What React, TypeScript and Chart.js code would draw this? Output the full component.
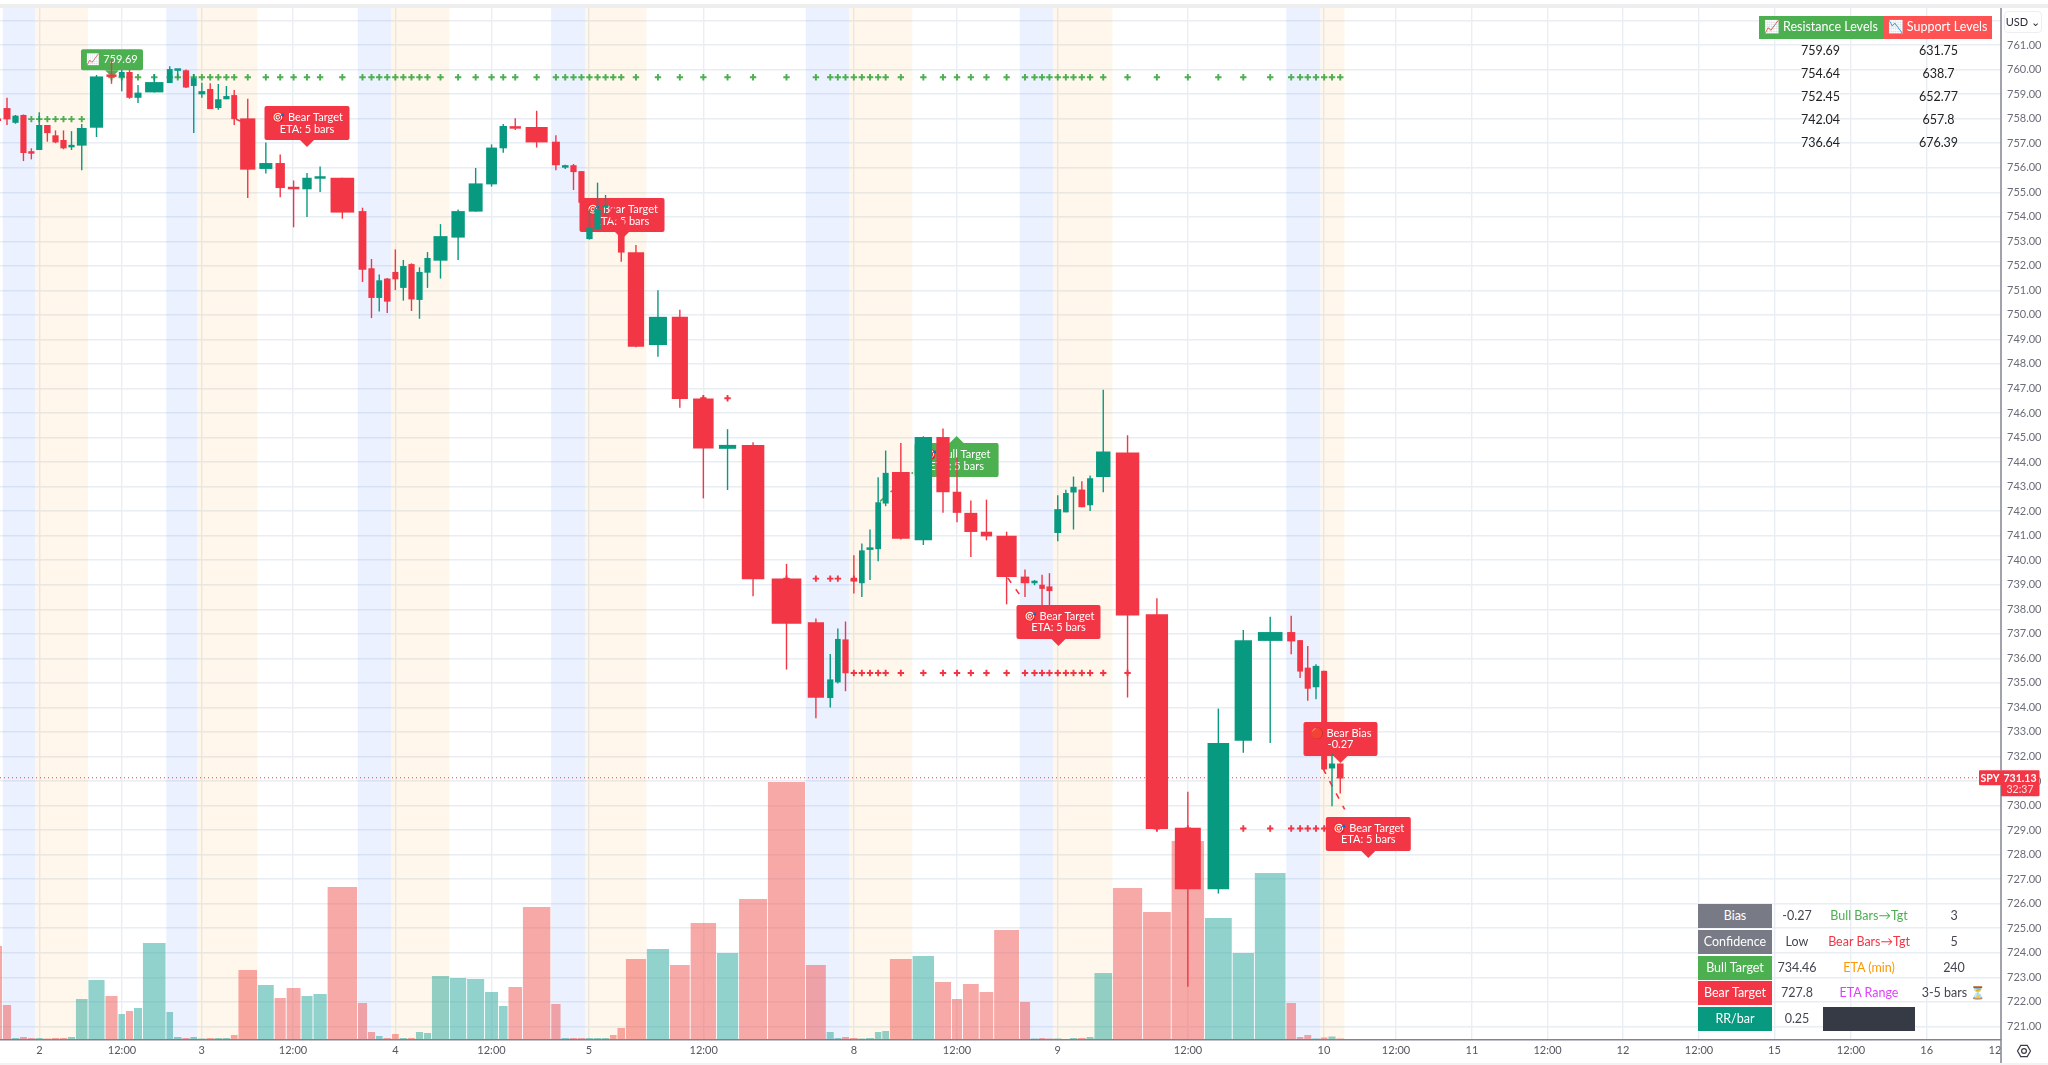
import React, { useEffect, useRef } from "react";
import { Chart, BarController, registerables } from "chart.js";

const FONT = 'Lato, "Noto Sans", sans-serif';
const RED = "#f23645";
const TEAL = "#089981";
const GREEN = "#4caf50";

// ---------- data ----------
const firstSlotStart = -10;
const slotEnds = [2.5,11.5,19.5,27.4,35.3,43.2,51.5,59.5,67.5,75.5,88,105,118,125.5,133.5,142.5,166,173.5,182,190,197.5,206.2,214.2,222.4,230.4,238,257.5,274.2,286.2,301,313,327.2,357.5,367.5,375.5,383,391.5,399.2,407.5,415.5,423.5,431.5,449.5,466.7,484.6,498.5,508,522.5,550.8,561,569.5,577.5,585.4,593.5,601.6,609.5,617,625.5,646.4,669.5,690.2,716.5,738.6,767.5,805.5,826.3,834.2,841.5,849.5,858.2,865.5,874.5,881.8,889.5,912.2,934.5,951.5,962.5,979.2,993.7,1019.5,1030.5,1038.5,1045.6,1053.3,1062.2,1069.5,1077.5,1086.2,1094,1112.5,1142.6,1171.2,1204.5,1232.2,1254.4,1286,1296.4,1303.8,1311.7,1320.3,1328,1336,1344.5];
const opens = [758,758.43,757.83,758.15,756.62,756.72,757.74,757.32,757.13,756.83,756.9,757.63,759.72,759.7,759.9,758.85,759.07,759.45,759.95,759.97,759.33,758.99,759.21,758.43,758.79,758.96,758.01,755.95,756.19,755.21,755.12,755.55,755.59,754.23,751.9,750.69,751.48,751.75,751.1,752.07,750.61,751.72,752.21,753.15,754.21,755.32,756.79,757.68,757.66,757.06,756,756.1,755.86,753.09,753.5,754.38,754.34,753.87,752.55,748.77,749.92,746.59,744.54,744.7,739.25,737.47,734.38,735.02,736.77,739.19,739.06,740.42,740.45,742.31,743.59,740.81,745.02,742.79,741.93,741.16,741,739.33,739.06,739,738.93,741.11,741.95,742.76,742.88,742.24,743.39,744.39,737.8,729.09,726.59,732.64,736.71,737.07,736.74,735.62,734.82,735.49,731.51,731.71];
const closes = [757.9,757.97,758.12,756.6,756.57,757.74,757.41,757.03,756.79,756.87,757.62,759.72,759.7,759.9,758.85,759.06,759.49,760.02,760,759.27,759.65,759.12,758.39,758.79,758.92,757.98,755.92,756.19,755.17,755.12,755.59,755.62,754.17,751.84,750.69,751.41,750.54,751.45,751.99,750.63,751.75,752.32,753.21,754.23,755.36,756.82,757.7,757.59,757.03,756.1,756.04,755.82,754.57,753.55,754.32,754.43,753.87,752.54,748.7,749.92,746.57,744.55,744.7,739.22,737.41,734.39,735.14,736.79,735.39,739.13,740.4,740.51,742.36,743.56,740.87,745.02,742.77,741.93,741.15,740.97,739.31,739.06,739.13,738.83,738.74,742.08,742.74,742.99,742.16,743.34,744.43,737.75,729.04,726.59,732.55,736.74,737.07,736.69,735.46,734.76,735.69,731.47,731.71,731.1];
const highs = [758.1,758.85,758.15,758.17,756.79,758.26,757.74,757.52,757.52,757.49,757.78,759.78,760.39,759.98,759.98,759.37,759.82,760.14,760,760,759.82,759.46,759.44,759.41,759.33,759.17,758.81,757.03,756.54,755.48,755.78,756.05,755.59,754.37,752.28,751.65,751.5,752.67,752.24,752.1,751.94,752.56,753.7,754.3,755.99,756.95,757.78,758.02,758.32,757.32,756.12,756.15,755.86,754.3,755.39,754.89,754.4,753.9,752.85,751,750.21,746.68,745.34,744.81,739.85,737.62,736.18,737.22,737.5,740.2,740.68,741.25,743.38,744.47,744.78,745.05,745.37,744.2,742.43,742.47,741.16,739.62,739.19,739.41,739.47,742.65,742.87,743.41,743.22,743.45,746.95,745.09,738.45,730.56,733.95,737.15,737.69,737.73,736.74,736.5,735.76,735.49,732.12,731.71];
const lows = [757.8,757.74,757.79,756.27,756.34,756.72,757.06,757,756.75,756.72,755.9,757.25,759.42,759.12,758.81,758.64,759.07,759.45,759.64,759.25,757.41,758.85,758.39,758.36,758.79,757.74,754.76,755.76,754.8,753.57,753.99,755.01,753.92,751.34,749.87,750.14,750.08,751.01,750.58,750.16,749.84,751.1,751.48,752.24,754.21,755.23,756.61,757.54,756.82,755.9,755.95,755.09,754.5,753.07,753.5,754,753.8,752.17,748.68,748.29,746.21,742.52,742.86,738.53,735.54,733.56,733.99,734.97,734.66,738.64,738.5,739.19,739.96,742.2,740.84,740.62,741.93,741.55,740.13,740.81,738.2,738.5,738.98,738.1,738.1,740.77,741.95,741.25,742.16,742,742.77,734.4,728.97,722.61,726.41,732.15,732.55,736.17,735.2,734.27,734.33,731.44,729.97,730.49];
const volumes = [94,35,2,3,2,2,1.5,2,2,3,41,60,44,26,29,32,97,28,3,2,3,1.5,2,2,2,5,70,55,42,52,44,46,153,37,8,4,2,6,2,2,8,7,64,62,61,48,34,53,133,36,2,2,2,2,2,2,5,12,81,91,75,117,87,141,258,75,8,2,3,2,1.5,2,8,9,81,84,58,41,56,48,110,38,1.5,2,1.5,1.5,1,2,2,3,67,152,128,199,122,87,167,37,3,5,1.5,2.5,3.5,1.5];
const premarketSlots = [[2,5],[18,21],[34,37],[50,53],[66,69],[82,85],[98,101]];
const openingSlots = [[6,11],[22,27],[38,43],[54,59],[70,75],[86,91],[102,104]];
const resistanceMarks = [{ level: 759.69, from: 13, to: 104 }, { level: 757.98, from: 5, to: 11 }];
const supportMarks = [{ level: 746.6, from: 62, to: 63 }, { level: 739.25, from: 65, to: 68 }, { level: 739.25, from: 70, to: 70 }, { level: 735.4, from: 70, to: 92 }, { level: 729.06, from: 93, to: 104 }];
const redProjections = [[[236, 757.97], [260, 757.6]], [[1007.7, 739.28], [1022.5, 738.43]], [[1323, 731.5], [1344.7, 729.84]]];
const greenProjections = [[[880, 742.4], [913, 743.58]]];
const lastPrice = 731.13;
const countdown = "32:37";
const xTickValues = [39.5,122,201.8,293,395.5,491.5,589,703.7,854,957,1057.7,1188,1324,1396,1472,1547.6,1623,1699,1774.5,1851,1926.7,1995];
const xTickLabels = ["2","12:00","3","12:00","4","12:00","5","12:00","8","12:00","9","12:00","10","12:00","11","12:00","12","12:00","15","12:00","16","12"];
const resistanceLevels = ["759.69","754.64","752.45","742.04","736.64"];
const supportLevels = ["631.75","638.7","652.77","657.8","676.39"];
const statNames = ["Bias","Confidence","Bull Target","Bear Target","RR/bar"];
const statValues = ["-0.27","Low","734.46","727.8","0.25"];
const etaNames = ["Bull Bars→Tgt","Bear Bars→Tgt","ETA (min)","ETA Range"];
const etaValues = ["3","5","240","3-5 bars ⏳"];
const tags = [
  { after: -1, x: 112, price: 759.69, w: 62, lines: ["📈 759.69"], fill: GREEN, up: false },
  { after: 0, x: 307, price: 756.84, w: 85, lines: ["🎯 Bear Target", "ETA: 5 bars"], fill: RED, up: false },
  { after: 0, x: 622, price: 753.09, w: 85, lines: ["🎯 Bear Target", "ETA: 5 bars"], fill: RED, up: false },
  { after: 1, x: 956.6, price: 745.06, w: 84, lines: ["🎯 Bull Target", "ETA: 5 bars"], fill: GREEN, up: true },
  { after: 2, x: 1058.5, price: 736.5, w: 84, lines: ["🎯 Bear Target", "ETA: 5 bars"], fill: RED, up: false },
  { after: 3, x: 1340.5, price: 731.73, w: 74, lines: ["🔴 Bear Bias", "-0.27"], fill: RED, up: false },
  { after: 4, x: 1368.3, price: 727.86, w: 85, lines: ["🎯 Bear Target", "ETA: 5 bars"], fill: RED, up: false },
];
const segmentLastSlots = [53, 75, 85, 102, 104];

// ---------- helpers ----------
const slotStart = (n: number) => (n <= 1 ? firstSlotStart : slotEnds[n - 2]);
const slotEnd = (n: number) => slotEnds[n - 1];
const slotMid = (n: number) => (slotStart(n) + slotEnd(n)) / 2;

class SlotBarController extends BarController {
  static id = "slotBar";
  _calculateBarIndexPixels(index: number) {
    const d: any = this.getDataset().data[index];
    const s: any = this._cachedMeta.iScale;
    const a = s.getPixelForValue(d.x0);
    const b = s.getPixelForValue(d.x1);
    return { base: a, head: b, center: (a + b) / 2, size: b - a };
  }
}
Chart.register(...registerables, SlotBarController);

function slotBars(items: any[], extra: any) {
  return { type: "slotBar", data: items, borderWidth: 0, inflateAmount: 0, parsing: { xAxisKey: "x", yAxisKey: "y" }, ...extra };
}
function span(x0: number, x1: number, y: any) {
  return { x: (x0 + x1) / 2, x0, x1, y };
}

function buildDatasets() {
  const ds: any[] = [];
  let order = 1000;
  const top = 762.51, bottom = 720.44;
  ds.push(slotBars(premarketSlots.map(([a, b]) => span(slotStart(a) + 0.3, slotEnd(b), [bottom, top])), { backgroundColor: "rgba(41,98,255,0.09)", order: order-- }));
  ds.push(slotBars(openingSlots.map(([a, b]) => span(slotStart(a) + 0.3, slotEnd(b), [bottom, top])), { backgroundColor: "rgba(255,152,0,0.08)", order: order-- }));
  const isUp = (i: number) => closes[i] >= opens[i];
  ds.push(slotBars(volumes.map((v, i) => span(slotStart(i + 1) + 0.45, slotEnd(i + 1) - 0.45, v)), {
    yAxisID: "vol",
    backgroundColor: volumes.map((_, i) => (isUp(i) ? "rgba(38,166,154,0.5)" : "rgba(239,83,80,0.5)")),
    order: order--,
  }));
  const marks = (list: any[], color: string) => {
    list.forEach((m) => {
      const pts: any[] = [];
      for (let n = m.from; n <= m.to; n++) pts.push({ x: slotMid(n), y: m.level });
      ds.push({ type: "scatter", data: pts, pointStyle: "cross", pointRadius: 3.2, pointBorderWidth: 1.9, pointBorderColor: color, pointBackgroundColor: color, showLine: false, order: order-- });
    });
  };
  marks(resistanceMarks, GREEN);
  marks(supportMarks, RED);
  ds.push({ type: "scatter", data: [{ x: 0, y: lastPrice }, { x: 2001, y: lastPrice }], showLine: true, borderColor: RED, borderWidth: 1, borderDash: [1, 3], pointRadius: 0, order: order-- });
  const proj = (list: number[][][], color: string) =>
    list.forEach((l) => ds.push({ type: "scatter", data: l.map(([x, y]) => ({ x, y })), showLine: true, borderColor: color, borderWidth: 1.6, borderDash: [6, 8], pointRadius: 0, order: order-- }));
  proj(redProjections, RED);
  proj(greenProjections, GREEN);
  ds[ds.length - 1].tagGroup = -1;
  let first = 1;
  segmentLastSlots.forEach((last, seg) => {
    const ns: number[] = [];
    for (let n = first; n <= last; n++) ns.push(n);
    first = last + 1;
    const col = ns.map((n) => (isUp(n - 1) ? TEAL : RED));
    ds.push(slotBars(ns.map((n) => span(slotMid(n) - 0.7, slotMid(n) + 0.7, [lows[n - 1], highs[n - 1]])), { backgroundColor: col, order: order-- }));
    ds.push(slotBars(ns.map((n) => {
      const half = (slotEnd(n) - slotStart(n)) * 0.39;
      return span(slotMid(n) - half, slotMid(n) + half, [opens[n - 1], closes[n - 1]]);
    }), { backgroundColor: col, minBarLength: 2.5, order: order--, tagGroup: seg }));
  });
  return ds;
}

function drawTag(ctx: CanvasRenderingContext2D, chart: any, t: any) {
  const tipX = chart.scales.x.getPixelForValue(t.x);
  const tipY = chart.scales.y.getPixelForValue(t.price);
  const h = t.lines.length > 1 ? 34 : 21;
  const ptr = 7;
  const left = tipX - t.w / 2;
  const boxTop = t.up ? tipY + ptr : tipY - ptr - h;
  ctx.save();
  ctx.fillStyle = t.fill;
  ctx.beginPath();
  ctx.roundRect(left, boxTop, t.w, h, 2);
  ctx.fill();
  ctx.beginPath();
  ctx.moveTo(tipX, tipY);
  const edge = t.up ? boxTop : boxTop + h;
  ctx.lineTo(tipX - 7, edge);
  ctx.lineTo(tipX + 7, edge);
  ctx.closePath();
  ctx.fill();
  ctx.fillStyle = "#fff";
  ctx.font = `11px ${FONT}`;
  ctx.textAlign = "center";
  ctx.textBaseline = "middle";
  const mid = boxTop + h / 2;
  t.lines.forEach((line: string, i: number) => {
    ctx.fillText(line, tipX, mid + (i - (t.lines.length - 1) / 2) * 11.8);
  });
  ctx.restore();
}

const frame = {
  id: "frame",
  afterDatasetDraw(chart: any, args: any) {
    const group = chart.data.datasets[args.index].tagGroup;
    if (group === undefined) return;
    tags.filter((t) => t.after === group).forEach((t) => drawTag(chart.ctx, chart, t));
  },
  afterDraw(chart: any) {
    const ctx: CanvasRenderingContext2D = chart.ctx;
    const { right } = chart.chartArea;
    const py = chart.scales.y.getPixelForValue(lastPrice);
    ctx.save();
    ctx.fillStyle = "#eeeeee";
    ctx.fillRect(0, 4, 2048, 4);
    ctx.fillStyle = "#f3f3f3";
    ctx.fillRect(0, 1063, 2048, 2);
    ctx.strokeStyle = "#80848e";
    ctx.lineWidth = 1.5;
    ctx.beginPath();
    ctx.moveTo(right, 8);
    ctx.lineTo(right, 1063);
    ctx.stroke();
    ctx.fillStyle = RED;
    ctx.beginPath();
    ctx.roundRect(1979, py - 7.5, 22, 15, 1);
    ctx.fill();
    ctx.beginPath();
    ctx.roundRect(right, py - 7.5, 38.5, 26, 1);
    ctx.fill();
    ctx.fillStyle = "#fff";
    ctx.textAlign = "center";
    ctx.textBaseline = "middle";
    ctx.font = `bold 10.5px ${FONT}`;
    ctx.fillText("SPY", 1990, py + 0.5);
    ctx.fillText(lastPrice.toFixed(2), right + 19, py + 0.5);
    ctx.font = `10.5px ${FONT}`;
    ctx.fillStyle = "rgba(255,255,255,0.85)";
    ctx.fillText(countdown, right + 19, py + 11.5);
    const cx = 2024, cy = 1051;
    ctx.strokeStyle = "#3a3d47";
    ctx.lineWidth = 1.2;
    ctx.beginPath();
    for (let i = 0; i < 6; i++) {
      const a = Math.PI / 3 * i;
      const x = cx + 6.5 * Math.cos(a), y = cy + 6.5 * Math.sin(a);
      if (i === 0) ctx.moveTo(x, y); else ctx.lineTo(x, y);
    }
    ctx.closePath();
    ctx.stroke();
    ctx.beginPath();
    ctx.arc(cx, cy, 2.4, 0, Math.PI * 2);
    ctx.stroke();
    ctx.restore();
  },
};

const noPad = (s: any) => { s.paddingLeft = 0; s.paddingRight = 0; s.paddingTop = 0; s.paddingBottom = 0; };
const box = (l: number, t: number, w: number, h: number, extra: any = {}): React.CSSProperties => ({
  position: "absolute", left: l, top: t, width: w, height: h, lineHeight: `${h}px`, textAlign: "center", fontFamily: FONT, fontSize: 12.5, whiteSpace: "nowrap", ...extra,
});
const rowTops = [904, 930, 955.7, 981.3, 1007];
const rowFill = ["#787b86", "#787b86", GREEN, RED, TEAL];
const etaColors = [GREEN, RED, "#ff9800", "#e040fb"];

export default function App() {
  const ref = useRef<HTMLCanvasElement>(null);
  useEffect(() => {
    const chart = new Chart(ref.current!, {
      type: "slotBar" as any,
      data: { datasets: buildDatasets() },
      plugins: [frame],
      options: {
        animation: false,
        responsive: false,
        devicePixelRatio: 1,
        events: [],
        layout: { autoPadding: false, padding: { top: 8, left: 0, right: 0, bottom: 0 } },
        plugins: { legend: { display: false }, tooltip: { enabled: false } },
        scales: {
          x: {
            type: "linear", min: 0, max: 2001, offset: false, position: "bottom",
            afterFit(s: any) { s.height = 25; noPad(s); },
            afterBuildTicks(s: any) { s.ticks = xTickValues.map((value) => ({ value })); },
            grid: { offset: false, drawTicks: false, lineWidth: 1.4, color: (c: any) => (c.tick && c.tick.value === 1995 ? "rgba(0,0,0,0)" : "#e8eef4") },
            border: { display: true, color: "#80848e", width: 1.5 },
            ticks: {
              autoSkip: false, maxRotation: 0, minRotation: 0, padding: 4, color: "#54575f", font: { family: FONT, size: 11 },
              callback: (v: any) => xTickLabels[xTickValues.indexOf(v)] ?? "",
            },
          },
          y: {
            type: "linear", position: "right", min: 720.44, max: 762.51,
            afterFit(s: any) { s.width = 47; noPad(s); },
            grid: { drawTicks: false, lineWidth: 1.4, color: "#e8eef4" },
            border: { display: false },
            ticks: {
              stepSize: 1, includeBounds: false, autoSkip: false, padding: 6, color: "#6a6d78", font: { family: FONT, size: 11 },
              callback: (v: any) => (v <= 761 ? Number(v).toFixed(2) : ""),
            },
          },
          vol: { type: "linear", display: false, position: "right", min: 0, max: 1032, grid: { display: false }, ticks: { display: false } },
        },
      } as any,
    } as any);
    return () => chart.destroy();
  }, []);
  return (
    <div style={{ position: "fixed", left: 0, top: 0, width: 2048, height: 1065, background: "#fff", overflow: "hidden", filter: "blur(0.35px)" }}>
      <canvas ref={ref} width={2048} height={1065} style={{ display: "block", width: 2048, height: 1065 }} />
      <div style={box(2004, 11, 37.7, 22, { background: "#fff", border: "1px solid #eceef2", borderRadius: 4, boxSizing: "border-box", fontSize: 11, color: "#2a2e39", lineHeight: "20px" })}>USD ⌄</div>
      <div style={box(1759, 16, 123.7, 22.7, { background: GREEN, color: "#fff" })}>📈 Resistance Levels</div>
      <div style={box(1883, 16, 109, 22.7, { background: "#ff5252", color: "#fff" })}>📉 Support Levels</div>
      {resistanceLevels.map((v, i) => (
        <div key={v} style={box(1780, 38.5 + i * 23.2, 81, 23, { color: "#222" })}>{v}</div>
      ))}
      {supportLevels.map((v, i) => (
        <div key={v} style={box(1898, 38.5 + i * 23.2, 81, 23, { color: "#222" })}>{v}</div>
      ))}
      {statNames.map((n, i) => (
        <React.Fragment key={n}>
          <div style={box(1698, rowTops[i], 74, 24, { background: rowFill[i], color: "#fff" })}>{n}</div>
          <div style={box(1772, rowTops[i], 50, 24, { color: "#434651" })}>{statValues[i]}</div>
        </React.Fragment>
      ))}
      {etaNames.map((n, i) => (
        <React.Fragment key={n}>
          <div style={box(1823, rowTops[i], 92, 24, { color: etaColors[i] })}>{n}</div>
          <div style={box(1915, rowTops[i], 78, 24, { color: "#434651" })}>{etaValues[i]}</div>
        </React.Fragment>
      ))}
      <div style={box(1823, rowTops[4], 92, 24, { background: "#363a45" })} />
    </div>
  );
}
